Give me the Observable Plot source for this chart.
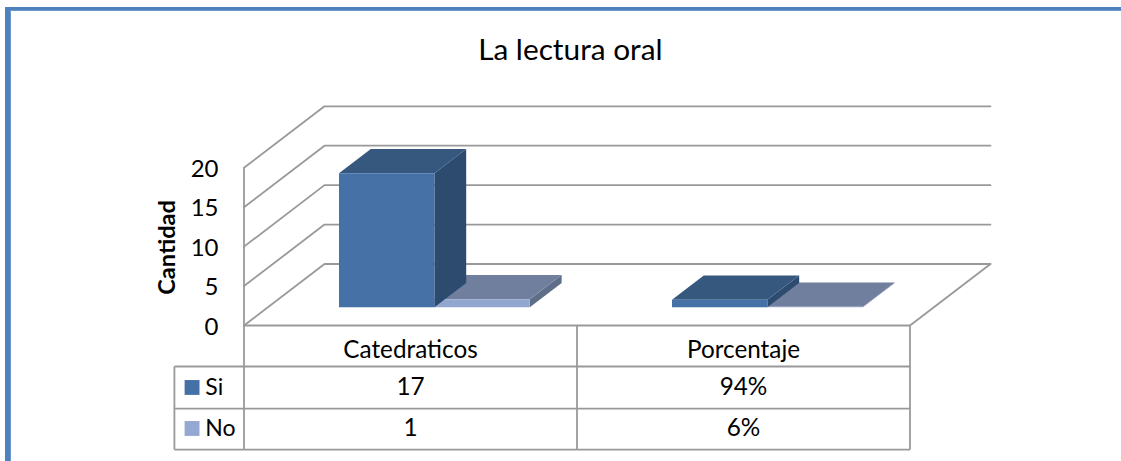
<!DOCTYPE html>
<html>
<head>
<meta charset="utf-8">
<script src="https://cdn.jsdelivr.net/npm/d3@7"></script>
<script src="https://cdn.jsdelivr.net/npm/@observablehq/plot@0.6"></script>
<style>
html,body{margin:0;padding:0;background:#fff;overflow:hidden}
#wrap{position:relative;width:1121px;height:461px}
#frame{position:absolute;left:5px;top:7px;width:1116px;height:454px;box-sizing:border-box;
 border-left:5px solid #4f81bd;border-top:3px solid #4f81bd;box-shadow:inset 1px 1px 0 #6c9ad0}
#chart{position:absolute;left:0;top:0}
svg{background:transparent !important}
</style>
</head>
<body>
<div id="wrap"><div id="frame"></div><div id="chart"></div></div>
<script>
const title = "La lectura oral";
const yLabel = "Cantidad";
const categories = ["Catedraticos", "Porcentaje"];
const seriesNames = ["Si", "No"];
const siValues = [17, 0.94];
const noValues = [1, 0.06];
const siLabels = ["17", "94%"];
const noLabels = ["1", "6%"];
const yTicks = [0, 5, 10, 15, 20];

const font = "Lato, sans-serif";
const grid = "#999999";
const faces = {
  Si: {front: "#4671a6", side: "#2d4a6f", top: "#36587f", key: "#4671a6"},
  No: {front: "#92a7d0", side: "#5e6e88", top: "#707f9e", key: "#94a8d1"}
};

// oblique projection, expressed in the units of the x (category) and y (value) scales
const depthU = 0.2417, depthV = 7.8;
const P = (u, v, d) => ({x: u + d * depthU, y: v + d * depthV});
const gap = 0.2135, barW = 0.2865, d0 = 0.297, d1 = 0.692;

const polys = [];
function face(id, color, pts) {
  pts.forEach(p => polys.push({id, color, ...p}));
}
// painter's order: far category first, No behind Si
[1, 0].forEach(c => {
  [["No", noValues[c], 1], ["Si", siValues[c], 0]].forEach(([name, v, k]) => {
    const a = c + gap + k * barW, b = a + barW, f = faces[name], id = name + c;
    face(id + "side", f.side, [P(b, 0, d0), P(b, 0, d1), P(b, v, d1), P(b, v, d0)]);
    face(id + "top", f.top, [P(a, v, d0), P(b, v, d0), P(b, v, d1), P(a, v, d1)]);
    face(id + "front", f.front, [P(a, 0, d0), P(b, 0, d0), P(b, v, d0), P(a, v, d0)]);
  });
});

const wall = [];
yTicks.forEach(v => {
  wall.push({id: "w" + v, ...P(0, v, 0)}, {id: "w" + v, ...P(0, v, 1)}, {id: "w" + v, ...P(2, v, 1)});
});
wall.push({id: "floorR", ...P(2, 0, 1)}, {id: "floorR", ...P(2, 0, 0)});

// table geometry in scale units
const rowA = -5.2, rowB = -10.53, rowC = -15.73, keyL = -0.209;
const tableLines = [
  {x1: 0, x2: 2, y1: 0, y2: 0},
  {x1: keyL, x2: 2, y1: rowA, y2: rowA},
  {x1: keyL, x2: 2, y1: rowB, y2: rowB},
  {x1: keyL, x2: 2, y1: rowC, y2: rowC},
  {x1: 0, x2: 0, y1: 20, y2: rowC},
  {x1: 1, x2: 1, y1: 0, y2: rowC},
  {x1: 2, x2: 2, y1: 0, y2: rowC},
  {x1: keyL, x2: keyL, y1: rowA, y2: rowC}
];
const tableText = [];
categories.forEach((t, i) => {
  tableText.push({x: i + 0.5, y: -3.17, t});
  tableText.push({x: i + 0.5, y: -7.86, t: siLabels[i]});
  tableText.push({x: i + 0.5, y: -13.06, t: noLabels[i]});
});
const legend = seriesNames.map((t, i) => ({t, y: i ? -13.06 : -7.86, c: faces[t].key}));

const chart = Plot.plot({
  width: 1121, height: 461,
  marginLeft: 243.5, marginRight: 211.5, marginTop: 167.3, marginBottom: 136,
  x: {type: "linear", domain: [0, 2], range: [243.5, 909.5], axis: null},
  y: {type: "linear", domain: [0, 20], range: [325, 167.3], axis: null},
  style: {fontFamily: font, background: "transparent", overflow: "visible"},
  marks: [
    Plot.line(wall, {x: "x", y: "y", z: "id", stroke: grid, strokeWidth: 1.8}),
    Plot.line(polys, {x: "x", y: "y", z: "id", fill: "color", stroke: null}),
    Plot.link(tableLines, {x1: "x1", x2: "x2", y1: "y1", y2: "y2", stroke: grid, strokeWidth: 1.8}),
    Plot.axisY({ticks: yTicks, tickSize: 0, tickPadding: 25.5, label: null, fontSize: 24, dy: 1.5, color: "#000", tickFormat: d => String(d)}),
    Plot.text(tableText, {x: "x", y: "y", text: "t", fontSize: 24.3, fill: "#000"}),
    Plot.dot(legend, {x: [-0.156, -0.156], y: "y", r: 8.4, symbol: "square", fill: "c", stroke: null}),
    Plot.text(legend, {x: [-0.116, -0.116], y: "y", text: "t", textAnchor: "start", fontSize: 23, fill: "#000"}),
    Plot.text([title], {x: [0.98], y: [34.9], text: d => d, fontSize: 29.8, fill: "#000"}),
    Plot.text([yLabel], {x: [-0.23], y: [9.9], text: d => d, rotate: -90, fontSize: 23.6, fontWeight: "bold", fill: "#000"})
  ]
});
document.getElementById("chart").appendChild(chart);
</script>
</body>
</html>
